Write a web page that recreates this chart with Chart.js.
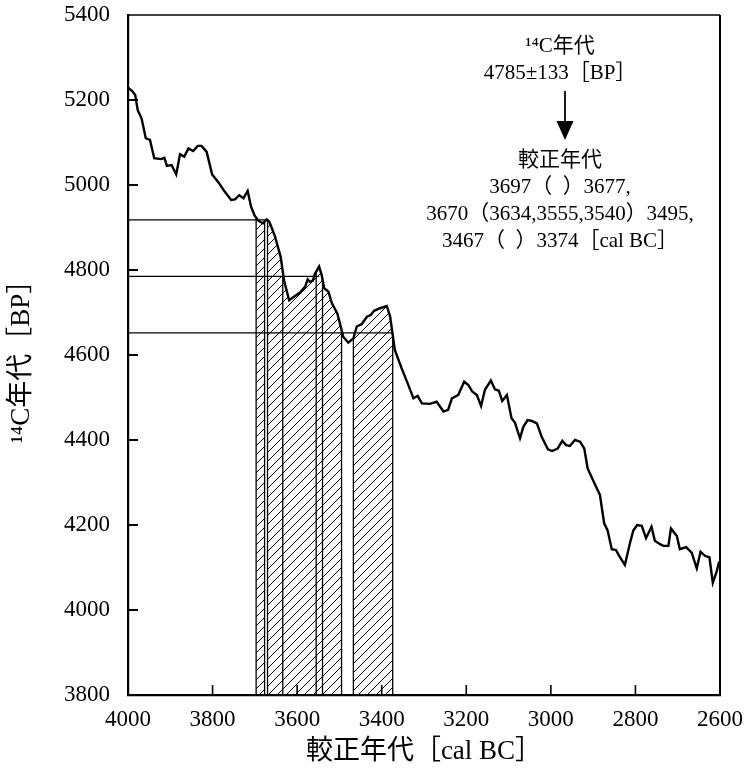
<!DOCTYPE html>
<html>
<head>
<meta charset="utf-8">
<script src="https://cdn.jsdelivr.net/npm/chart.js@4"></script>
<style>
  html, body { margin: 0; background: #fff; }
  #wrap { width: 744px; height: 775px; }
</style>
</head>
<body>
<div id="wrap"><canvas id="c"></canvas></div>
<script>
// calibration curve (cal BC vs 14C BP)
const calBC = [4000, 3990, 3983, 3977, 3968, 3958, 3948, 3938, 3922, 3914, 3908, 3897, 3886, 3877, 3867, 3857, 3846, 3835, 3826, 3814,
  3801, 3786, 3771, 3756, 3747, 3737, 3727, 3717, 3709, 3701, 3692, 3681, 3672, 3666, 3652, 3639, 3631, 3619, 3605, 3593,
  3581, 3575, 3570, 3563, 3558, 3548, 3542, 3536, 3526, 3518, 3505, 3499, 3491, 3479, 3467, 3459, 3447, 3435, 3426, 3418,
  3404, 3388, 3380, 3369, 3353, 3337, 3325, 3315, 3305, 3286, 3270, 3254, 3243, 3234, 3219, 3205, 3195, 3186, 3175, 3165,
  3156, 3142, 3132, 3123, 3115, 3104, 3093, 3085, 3073, 3065, 3055, 3045, 3033, 3022, 3007, 2997, 2984, 2973, 2964, 2955,
  2943, 2931, 2921, 2913, 2897, 2884, 2874, 2866, 2856, 2846, 2837, 2825, 2813, 2805, 2796, 2785, 2775, 2762, 2754, 2742,
  2734, 2722, 2716, 2702, 2695, 2680, 2667, 2655, 2646, 2635, 2625, 2617, 2608, 2602];
const bpAge = [5229, 5221, 5212, 5176, 5157, 5110, 5106, 5063, 5061, 5064, 5045, 5047, 5025, 5072, 5067, 5086, 5080, 5092, 5092, 5078,
  5025, 5006, 4984, 4965, 4966, 4976, 4969, 4986, 4949, 4929, 4916, 4910, 4919, 4914, 4878, 4831, 4776, 4729, 4739, 4747,
  4761, 4778, 4772, 4775, 4791, 4808, 4788, 4757, 4749, 4722, 4698, 4675, 4643, 4629, 4639, 4667, 4673, 4690, 4694, 4704,
  4710, 4715, 4690, 4612, 4569, 4529, 4498, 4504, 4486, 4485, 4490, 4467, 4471, 4498, 4506, 4537, 4529, 4514, 4506, 4480,
  4518, 4540, 4519, 4516, 4492, 4506, 4451, 4441, 4404, 4431, 4447, 4445, 4439, 4408, 4378, 4374, 4380, 4398, 4388, 4386,
  4400, 4396, 4380, 4333, 4298, 4271, 4204, 4188, 4143, 4141, 4125, 4106, 4157, 4187, 4200, 4198, 4169, 4196, 4163, 4155,
  4151, 4151, 4192, 4174, 4143, 4148, 4135, 4098, 4137, 4127, 4124, 4064, 4090, 4114];

// hatched calibrated ranges and extra intercept edges
const hatchFrom = [3697, 3670, 3467];
const hatchTo = [3677, 3495, 3374];
const interceptEdges = [3634, 3555, 3540];

// measured age and ±1σ, with where each guide line stops
const refBP = [4918, 4785, 4652];
const refEnd = [3670, 3548, 3374];

const xTickVals = [3800, 3600, 3400, 3200, 3000, 2800];
const yTickVals = [4000, 4200, 4400, 4600, 4800, 5000, 5200];

const noteLines = ['¹⁴C年代', '4785±133［BP］', '較正年代', '3697（  ）3677,', '3670（3634,3555,3540）3495,', '3467（  ）3374［cal BC］'];

const serif = '"Liberation Serif", "Noto Sans CJK JP", serif';

function makeHatch() {
  const s = 9;
  const c = document.createElement('canvas');
  c.width = s; c.height = s;
  const g = c.getContext('2d');
  g.strokeStyle = '#000';
  g.lineWidth = 1;
  g.beginPath();
  g.moveTo(0, s); g.lineTo(s, 0);
  g.moveTo(-1, 1); g.lineTo(1, -1);
  g.moveTo(s - 1, s + 1); g.lineTo(s + 1, s - 1);
  g.stroke();
  return g.createPattern(c, 'repeat');
}

const hatchPlugin = {
  id: 'hatch',
  beforeDatasetsDraw(chart) {
    const { ctx, chartArea, scales: { x, y } } = chart;
    const base = y.getPixelForValue(y.min);
    ctx.save();
    ctx.beginPath();
    ctx.moveTo(x.getPixelForValue(calBC[0]), base);
    calBC.forEach((v, i) => ctx.lineTo(x.getPixelForValue(v), y.getPixelForValue(bpAge[i])));
    ctx.lineTo(x.getPixelForValue(calBC[calBC.length - 1]), base);
    ctx.closePath();
    ctx.clip();
    ctx.fillStyle = makeHatch();
    hatchFrom.forEach((a, i) => {
      const xa = x.getPixelForValue(a), xb = x.getPixelForValue(hatchTo[i]);
      ctx.fillRect(xa, chartArea.top, xb - xa, base - chartArea.top);
    });
    ctx.strokeStyle = '#000';
    ctx.lineWidth = 1.3;
    hatchFrom.concat(hatchTo, interceptEdges).forEach(v => {
      const px = x.getPixelForValue(v);
      ctx.beginPath();
      ctx.moveTo(px, chartArea.top);
      ctx.lineTo(px, base);
      ctx.stroke();
    });
    ctx.restore();
  }
};

const framePlugin = {
  id: 'frame',
  afterDraw(chart) {
    const { ctx, chartArea: a, scales: { x, y } } = chart;
    ctx.save();
    ctx.strokeStyle = '#000';
    ctx.lineWidth = 1.5;
    ctx.beginPath();
    ctx.moveTo(a.left, a.top); ctx.lineTo(a.right, a.top);
    ctx.stroke();
    ctx.lineWidth = 2;
    ctx.beginPath();
    ctx.moveTo(a.right, a.top); ctx.lineTo(a.right, a.bottom);
    ctx.stroke();
    // inward ticks
    yTickVals.forEach(v => {
      const py = y.getPixelForValue(v);
      ctx.beginPath(); ctx.moveTo(a.left, py); ctx.lineTo(a.left + 10, py); ctx.stroke();
    });
    ctx.lineWidth = 1.6;
    xTickVals.forEach(v => {
      const px = x.getPixelForValue(v);
      ctx.beginPath(); ctx.moveTo(px, a.bottom); ctx.lineTo(px, a.bottom - 10); ctx.stroke();
    });

    // note text in the upper right
    const cx = a.right - 160;
    ctx.fillStyle = '#000';
    ctx.textAlign = 'center';
    ctx.textBaseline = 'middle';
    ctx.font = '21px ' + serif;
    const ys = [a.top + 31, a.top + 58, a.top + 145, a.top + 172, a.top + 199, a.top + 226];
    noteLines.forEach((t, i) => ctx.fillText(t, cx, ys[i]));
    // arrow
    const ax = cx + 5;
    ctx.lineWidth = 1.8;
    ctx.beginPath(); ctx.moveTo(ax, a.top + 76); ctx.lineTo(ax, a.top + 112); ctx.stroke();
    ctx.beginPath();
    ctx.moveTo(ax - 8.5, a.top + 106); ctx.lineTo(ax + 8.5, a.top + 106); ctx.lineTo(ax, a.top + 125);
    ctx.closePath(); ctx.fill();
    ctx.restore();
  }
};

const datasets = [{
  data: calBC.map((v, i) => ({ x: v, y: bpAge[i] })),
  borderColor: '#000',
  borderWidth: 2.4,
  pointRadius: 0,
  tension: 0
}];
refBP.forEach((v, i) => {
  datasets.push({
    data: [{ x: 4000, y: v }, { x: refEnd[i], y: v }],
    borderColor: '#000',
    borderWidth: 1.1,
    pointRadius: 0
  });
});

new Chart(document.getElementById('c'), {
  type: 'line',
  data: { datasets },
  options: {
    responsive: true,
    maintainAspectRatio: false,
    animation: false,
    layout: { padding: 0 },
    plugins: { legend: { display: false }, tooltip: { enabled: false } },
    scales: {
      x: {
        type: 'linear',
        reverse: true,
        min: 2600,
        max: 4000,
        afterFit(s) { s.height = 80; s.paddingLeft = 0; s.paddingRight = 24; },
        border: { display: true, color: '#000', width: 2.2 },
        grid: { display: true, drawOnChartArea: false, drawTicks: false },
        ticks: { stepSize: 200, padding: 11, color: '#000', font: { family: serif, size: 23 }, maxRotation: 0, callback: v => String(v) },
        title: { display: true, text: '較正年代［cal BC］', color: '#000', font: { family: serif, size: 27 }, padding: { top: 0, bottom: 7 } }
      },
      y: {
        type: 'linear',
        min: 3800,
        max: 5400,
        afterFit(s) { s.width = 128; s.paddingTop = 15; s.paddingBottom = 0; },
        border: { display: true, color: '#000', width: 2.2 },
        grid: { display: true, drawOnChartArea: false, drawTicks: false },
        ticks: { stepSize: 200, padding: 18, color: '#000', font: { family: serif, size: 23 }, callback: v => String(v) },
        title: { display: true, text: '¹⁴C年代［BP］', color: '#000', font: { family: serif, size: 27 }, padding: { top: 6, bottom: 0 } }
      }
    }
  },
  plugins: [hatchPlugin, framePlugin]
});
</script>
</body>
</html>
